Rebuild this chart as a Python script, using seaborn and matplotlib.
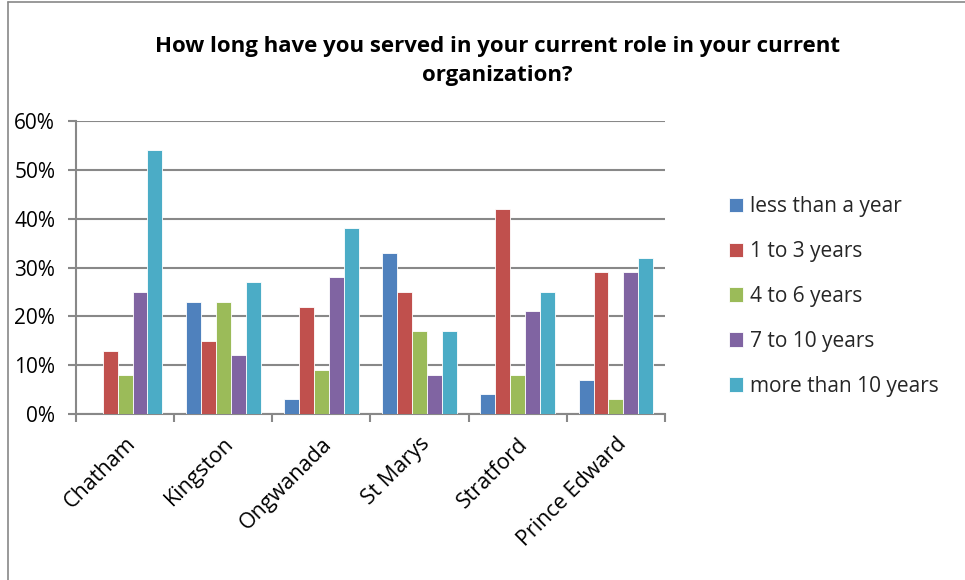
import matplotlib
matplotlib.use("Agg")
import matplotlib.pyplot as plt
from matplotlib.lines import Line2D
from matplotlib.ticker import PercentFormatter, FixedLocator
import seaborn as sns
import pandas as pd

sites = ["Chatham", "Kingston", "Ongwanada", "St Marys", "Stratford", "Prince Edward"]
tenures = ["less than a year", "1 to 3 years", "4 to 6 years", "7 to 10 years", "more than 10 years"]

less_than_year = [0, 23, 3, 33, 4, 7]
one_to_three = [13, 15, 22, 25, 42, 29]
four_to_six = [8, 23, 9, 17, 8, 3]
seven_to_ten = [25, 12, 28, 8, 21, 29]
more_than_ten = [54, 27, 38, 17, 25, 32]

colors = ["#4F81BD", "#C0504D", "#9BBB59", "#8064A2", "#4BACC6"]

series = [less_than_year, one_to_three, four_to_six, seven_to_ten, more_than_ten]
rows = []
for tenure, vals in zip(tenures, series):
    for site, v in zip(sites, vals):
        rows.append({"site": site, "tenure": tenure, "pct": v / 100})
df = pd.DataFrame(rows)

sns.set_theme(style="white")
plt.rcParams["font.family"] = ["Open Sans", "DejaVu Sans"]

fig = plt.figure(figsize=(9.65, 5.8), dpi=100)
ax = fig.add_axes([76 / 965, 1 - 414 / 580, (665 - 76) / 965, (414 - 121) / 580])

sns.barplot(data=df, x="site", y="pct", hue="tenure", hue_order=tenures,
            order=sites, palette=colors, saturation=1, width=0.76,
            edgecolor="white", linewidth=0.6, errorbar=None, ax=ax, zorder=3)

grid_c = "#888888"
ax.set_ylim(0, 0.6)
ax.set_xlim(-0.5, len(sites) - 0.5)
ax.yaxis.set_major_locator(FixedLocator([0, 0.1, 0.2, 0.3, 0.4, 0.5, 0.6]))
ax.yaxis.set_major_formatter(PercentFormatter(1.0, decimals=0))
ax.grid(axis="y", color=grid_c, linewidth=1.5, zorder=0)
ax.set_axisbelow(True)
for side in ["top", "right"]:
    ax.spines[side].set_visible(False)
for side in ["left", "bottom"]:
    ax.spines[side].set_color(grid_c)
    ax.spines[side].set_linewidth(1.5)

ax.set_xlabel("")
ax.set_ylabel("")
ax.tick_params(axis="y", which="major", direction="out", length=6, width=1.5,
               color=grid_c, labelsize=15, labelcolor="#000000", pad=9, left=True)

# category boundaries carry the x tick marks; names sit at centers
ax.set_xticks([i - 0.5 for i in range(len(sites) + 1)], minor=False)
ax.set_xticklabels([])
ax.tick_params(axis="x", which="major", direction="out", length=6, width=1.5,
               color=grid_c, bottom=True)
ax.set_xticks(range(len(sites)), minor=True)
ax.set_xticklabels(sites, minor=True, rotation=45, ha="right",
                   rotation_mode="anchor", fontsize=15.5, color="#000000")
ax.tick_params(axis="x", which="minor", length=0, pad=14)

leg = ax.legend(loc="upper left", bbox_to_anchor=(729 / 965, 1 - 196 / 580),
                bbox_transform=fig.transFigure, frameon=False, fontsize=15,
                handlelength=0.68, handleheight=0.68, handletextpad=0.35,
                labelspacing=1.15, borderaxespad=0, borderpad=0)

fig.text(497 / 965, 1 - 61 / 580,
         "How long have you served in your current role in your current\norganization?",
         ha="center", va="center", fontsize=16, fontweight="bold",
         linespacing=1.55, color="#000000")

# chart frame
fig.add_artist(Line2D([8 / 965, 8 / 965], [0, 1 - 2 / 580], transform=fig.transFigure,
                      color="#888888", linewidth=1.2))
fig.add_artist(Line2D([8 / 965, 1], [1 - 2 / 580, 1 - 2 / 580], transform=fig.transFigure,
                      color="#888888", linewidth=1.2))

fig.savefig("out.png", dpi=100, facecolor="white")
